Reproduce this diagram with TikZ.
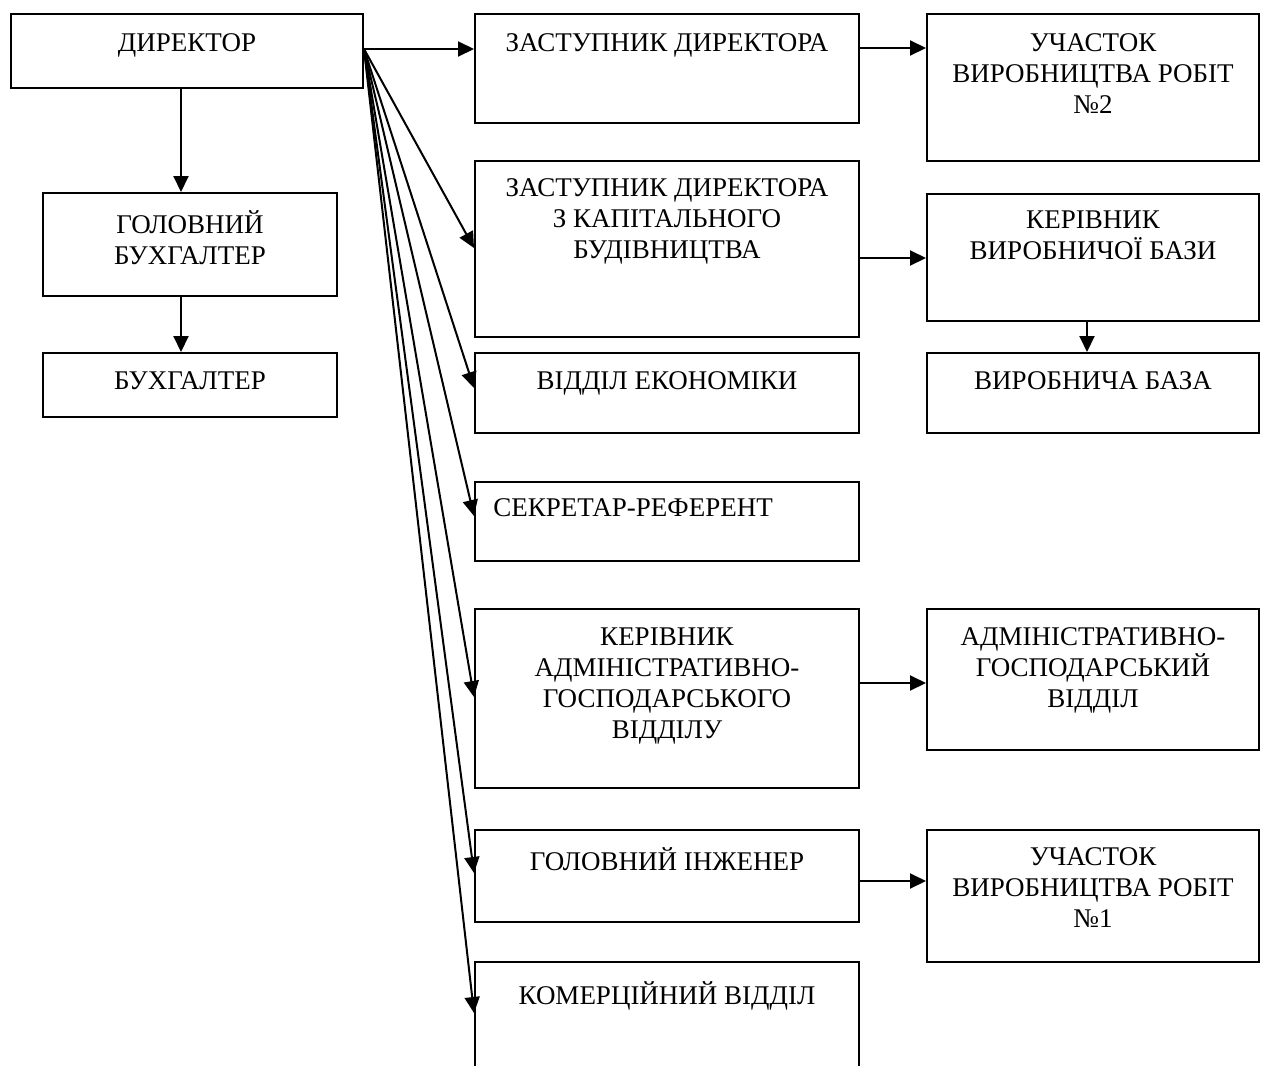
\documentclass[tikz,border=0pt]{standalone}
\usepackage{fontspec}
\setmainfont{Liberation Serif}
\usetikzlibrary{arrows.meta,calc}

\tikzset{
  unit/.style={draw, line width=1pt, inner sep=0pt, anchor=north west},
  wide/.style={unit, minimum width=192pt},
  side/.style={unit, minimum width=166pt},
  caption/.style={anchor=north, align=center, inner sep=0pt,
    font=\fontsize{13.5}{15.5}\selectfont},
  arr/.style={line width=1pt, -{Triangle[length=8pt,width=7.5pt]}}
}

\begin{document}
\begin{tikzpicture}[x=0.5pt, y=-0.5pt]
      \useasboundingbox (0,0) rectangle (1270,1066);
      \clip (0,0) rectangle (1270,1066);
      % left column
      \node[unit, minimum width=176pt, minimum height=37pt] (dir) at (10,13) {};
      \node[unit, minimum width=147pt, minimum height=51.5pt] (golbuh) at (42,192) {};
      \node[unit, minimum width=147pt, minimum height=32pt] (buh) at (42,352) {};
      % middle column
      \node[wide, minimum height=54.5pt] (zast) at (474,13) {};
      \node[wide, minimum height=88pt] (kap) at (474,160) {};
      \node[wide, minimum height=40pt] (econ) at (474,352) {};
      \node[wide, minimum height=39.5pt] (sekr) at (474,481) {};
      \node[wide, minimum height=89.5pt] (keragv) at (474,608) {};
      \node[wide, minimum height=46pt] (golinzh) at (474,829) {};
      \node[wide, minimum height=65pt] (kom) at (474,961) {};
      % right column
      \node[side, minimum height=73.5pt] (uch2) at (926,13) {};
      \node[side, minimum height=63.5pt] (kerbaz) at (926,193) {};
      \node[side, minimum height=40pt] (virbaz) at (926,352) {};
      \node[side, minimum height=70.5pt] (agv) at (926,608) {};
      \node[side, minimum height=66pt] (uch1) at (926,829) {};

      % texts
      \node[caption] (dir-t) at ($(dir.north)+(0,20)$) {ДИРЕКТОР};
      \node[caption] (golbuh-t) at ($(golbuh.north)+(0,18)$) {ГОЛОВНИЙ\\БУХГАЛТЕР};
      \node[caption] (buh-t) at ($(buh.north)+(0,19)$) {БУХГАЛТЕР};
      \node[caption] (zast-t) at ($(zast.north)+(0,20)$) {ЗАСТУПНИК ДИРЕКТОРА};
      \node[caption] (kap-t) at ($(kap.north)+(0,18)$) {ЗАСТУПНИК ДИРЕКТОРА\\З КАПІТАЛЬНОГО\\БУДІВНИЦТВА};
      \node[caption] (econ-t) at ($(econ.north)+(0,19)$) {ВІДДІЛ ЕКОНОМІКИ};
      \node[caption] (sekr-t) at ($(sekr.north)+(-34,17)$) {СЕКРЕТАР-РЕФЕРЕНТ};
      \node[caption] (keragv-t) at ($(keragv.north)+(0,19)$) {КЕРІВНИК\\АДМІНІСТРАТИВНО-\\ГОСПОДАРСЬКОГО\\ВІДДІЛУ};
      \node[caption] (golinzh-t) at ($(golinzh.north)+(0,18)$) {ГОЛОВНИЙ ІНЖЕНЕР};
      \node[caption] (kom-t) at ($(kom.north)+(0,20)$) {КОМЕРЦІЙНИЙ ВІДДІЛ};
      \node[caption] (uch2-t) at ($(uch2.north)+(0,20)$) {УЧАСТОК\\ВИРОБНИЦТВА РОБІТ\\№2};
      \node[caption] (kerbaz-t) at ($(kerbaz.north)+(0,17)$) {КЕРІВНИК\\ВИРОБНИЧОЇ БАЗИ};
      \node[caption] (virbaz-t) at ($(virbaz.north)+(0,19)$) {ВИРОБНИЧА БАЗА};
      \node[caption] (agv-t) at ($(agv.north)+(0,19)$) {АДМІНІСТРАТИВНО-\\ГОСПОДАРСЬКИЙ\\ВІДДІЛ};
      \node[caption] (uch1-t) at ($(uch1.north)+(0,18)$) {УЧАСТОК\\ВИРОБНИЦТВА РОБІТ\\№1};

      % connectors from the director
      \coordinate (src) at ($(dir.east)+(0,-2)$);
      \draw[arr] (src) -- (src -| zast.west);
      \draw[arr] (src) -- ($(kap.north west)+(0,88)$);
      \draw[arr] (src) -- ($(econ.north west)+(0,36)$);
      \draw[arr] (src) -- ($(sekr.north west)+(0,35)$);
      \draw[arr] (src) -- ($(keragv.north west)+(0,89)$);
      \draw[arr] (src) -- ($(golinzh.north west)+(0,44)$);
      \draw[arr] (src) -- ($(kom.north west)+(0,52)$);
      % vertical connectors
      \coordinate (bx) at ($(golbuh.north)+(-9,0)$);
      \draw[arr] (bx |- dir.south) -- (bx);
      \draw[arr] (bx |- golbuh.south) -- (bx |- buh.north);
      \coordinate (vx) at ($(virbaz.north)+(-6,0)$);
      \draw[arr] (vx |- kerbaz.south) -- (vx);
      % horizontal connectors to the right
      \coordinate (z1) at ($(zast.north east)+(0,35)$);
      \draw[arr] (z1) -- (z1 -| uch2.west);
      \coordinate (k1) at ($(kap.north east)+(0,98)$);
      \draw[arr] (k1) -- (k1 -| kerbaz.west);
      \coordinate (a1) at ($(keragv.north east)+(0,75)$);
      \draw[arr] (a1) -- (a1 -| agv.west);
      \coordinate (g1) at ($(golinzh.north east)+(0,52)$);
      \draw[arr] (g1) -- (g1 -| uch1.west);
    \end{tikzpicture}
\end{document}
